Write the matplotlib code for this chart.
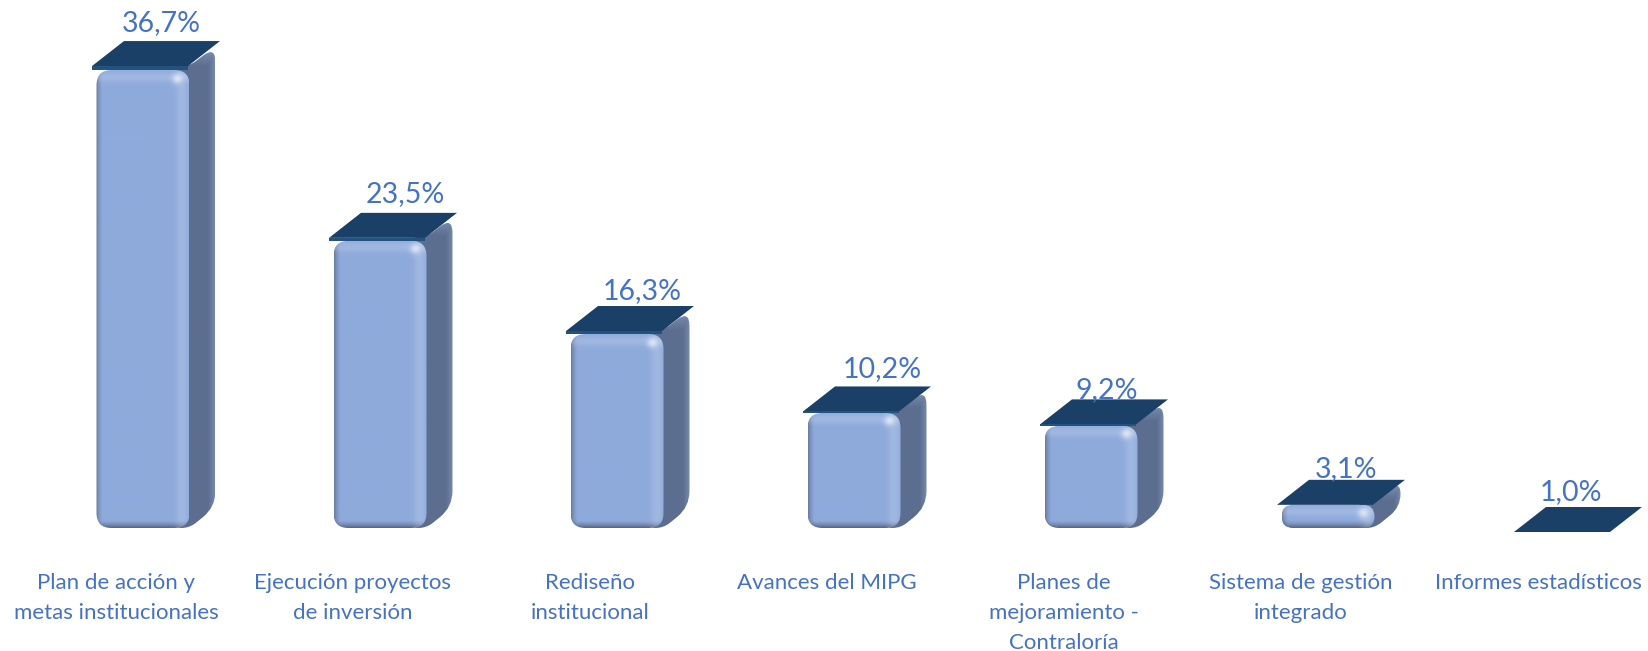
import numpy as np
import matplotlib
matplotlib.use("Agg")
import matplotlib.pyplot as plt
from matplotlib.patches import FancyBboxPatch, PathPatch, Polygon
from matplotlib.path import Path

categories = [
    "Plan de acción y\nmetas institucionales",
    "Ejecución proyectos\nde inversión",
    "Rediseño\ninstitucional",
    "Avances del MIPG",
    "Planes de\nmejoramiento -\nContraloría",
    "Sistema de gestión\nintegrado",
    "Informes estadísticos",
]
values = [36.7, 23.5, 16.3, 10.2, 9.2, 3.1, 1.0]
# manual label shifts in pixels, like dragged labels in the original
label_dx = [18, 25, 25, 28, 16, 18, 6]
label_dy = [22, 22, 18, 19, 11, 11, 15]
cap_edge = [4, 3, 3, 1.5, 1.5, 0, 0]

PX_X = 237.0   # pixels per category
PX_Y = 12.94   # pixels per percent
BASE = 1.31    # where the bars stand
BLUE = "#4472c4"
CAP = "#1a4068"

plt.rcParams["font.family"] = ["Lato", "DejaVu Sans"]

fig = plt.figure(figsize=(16.48, 6.51), dpi=100)
ax = fig.add_axes([0, 0, 1, 1])


def dx(px):
    return px / PX_X


def dy(px):
    return px / PX_Y


def rounded_poly(pts, r):
    """Closed path through pts with corners rounded, r in pixels."""
    pts = np.array(pts) * [PX_X, PX_Y]
    verts, codes = [], []
    n = len(pts)
    for k in range(n):
        p, a, b = pts[k], pts[k - 1], pts[(k + 1) % n]
        ua = (a - p) / np.linalg.norm(a - p)
        ub = (b - p) / np.linalg.norm(b - p)
        rr = min(r, np.linalg.norm(a - p) / 2, np.linalg.norm(b - p) / 2)
        verts.append(p + ua * rr)
        codes.append(Path.MOVETO if k == 0 else Path.LINETO)
        verts += [p, p + ub * rr]
        codes += [Path.CURVE3, Path.CURVE3]
    verts.append(verts[0])
    codes.append(Path.CLOSEPOLY)
    return Path(np.array(verts) / [PX_X, PX_Y], codes)


def front_shade(w, h):
    xx, yy = np.meshgrid(np.arange(w) + 0.5, np.arange(h) + 0.5)
    base = np.array([0x8e, 0xaa, 0xdb], dtype=float) / 255
    left = np.clip(1 - xx / 7.0, 0, 1) ** 1.5
    bottom = np.clip(1 - (h - yy) / 8.0, 0, 1)
    band = np.exp(-(((w - xx) - 7) / 6.0) ** 2)
    blob = np.exp(-(((xx - (w - 12)) / 5.0) ** 2 + ((yy - min(9, h / 2)) / 5.0) ** 2))
    light = 0.16 * band + 0.45 * blob + 0.16 * np.exp(-((yy - 7) / 5.0) ** 2)
    dark = 0.42 * bottom ** 1.5 + 0.28 * left
    img = base[None, None, :] * (1 - dark[..., None])
    img = img + (1 - img) * np.clip(light, 0, 1)[..., None]
    return np.clip(img, 0, 1)


def side_shade(w, h):
    xx, yy = np.meshgrid(np.arange(w) + 0.5, np.arange(h) + 0.5)
    c0 = np.array([0x5c, 0x6e, 0x90], dtype=float) / 255
    c1 = np.array([0x86, 0x98, 0xba], dtype=float) / 255
    t = np.clip((xx - (w - 7)) / 7, 0, 1) * 0.7
    t = np.maximum(t, np.clip(1 - (yy - 4) / 16, 0, 1) * 0.8)
    t = t[..., None]
    return c0 * (1 - t) + c1 * t


for i, (cat, v) in enumerate(zip(categories, values)):
    if v > BASE:
        xl, xr = i - dx(46.5), i + dx(46.5)
        h_px = (v - BASE) * PX_Y
        r = min(15, h_px / 2)

        # side face, behind the front; its top runs under the cap
        pts = [(xr - dx(16), v + dy(4)), (xr, v + dy(4)), (xr + dx(26), v + dy(24)),
               (xr + dx(26), BASE + dy(21)), (xr, BASE), (xr - dx(16), BASE)]
        clip = PathPatch(rounded_poly(pts, min(16, h_px / 2 + 2)), fc="none", ec="none")
        ax.add_patch(clip)
        im = ax.imshow(side_shade(42, int(h_px + 24)), aspect="auto", zorder=2,
                       extent=[xr - dx(16), xr + dx(26), BASE, v + dy(24)])
        im.set_clip_path(clip)

        # front face
        box = FancyBboxPatch((xl, BASE), xr - xl, v - BASE,
                             boxstyle=f"round,pad=0,rounding_size={dx(r)}",
                             mutation_aspect=PX_X / PX_Y, fc="none", ec="none")
        ax.add_patch(box)
        im = ax.imshow(front_shade(93, max(int(h_px), 2)), aspect="auto", zorder=3,
                       extent=[xl, xr, BASE, v])
        im.set_clip_path(box)

    # flat cap on top, with a thin lighter front edge
    cl = i - dx(51)
    e = dy(cap_edge[i])
    cap = [(cl, v + e), (cl + dx(96), v + e), (cl + dx(128), v + e + dy(25)), (cl + dx(32), v + e + dy(25))]
    ax.add_patch(Polygon(cap, closed=True, fc=CAP, ec="none", zorder=5))
    if cap_edge[i] > 0:
        ax.add_patch(Polygon([(cl, v), (cl + dx(96), v), (cl + dx(96), v + e), (cl, v + e)],
                             closed=True, fc="#24527f", ec="none", zorder=5))

    ax.text(i + dx(label_dx[i]), v + dy(25 + label_dy[i]), f"{v:.1f}%".replace(".", ","),
            ha="center", va="center", fontsize=20.5, color=BLUE, zorder=6)
    ax.text(i - dx(27), -2.17, cat, ha="center", va="top", fontsize=16,
            color=BLUE, linespacing=1.64)

ax.set_xlim(-143 / PX_X, (1648 - 143) / PX_X)
ax.set_ylim(1 - (651 - 532) / PX_Y, 1 + 532 / PX_Y)
ax.axis("off")

fig.savefig("out.png", dpi=100)
